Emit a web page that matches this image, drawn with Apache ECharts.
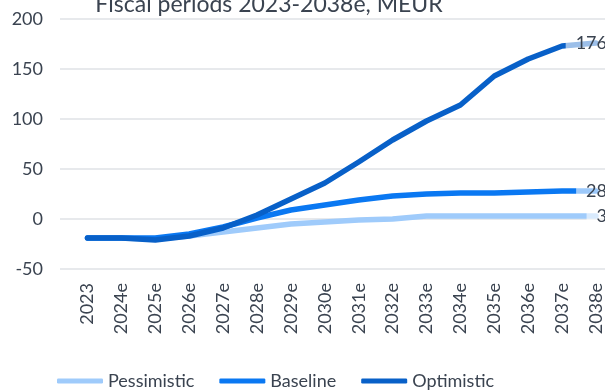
<!DOCTYPE html>
<html>
<head>
<meta charset="utf-8">
<script src="https://cdn.jsdelivr.net/npm/echarts@6/dist/echarts.min.js"></script>
<style>
  html, body { margin: 0; padding: 0; background: #ffffff; }
  #chart { width: 605px; height: 391px; }
</style>
</head>
<body>
<div id="chart"></div>
<script>
// Fiscal periods and scenario results (MEUR)
const years = ['2023', '2024e', '2025e', '2026e', '2027e', '2028e', '2029e', '2030e',
               '2031e', '2032e', '2033e', '2034e', '2035e', '2036e', '2037e', '2038e'];
const pessimistic = [-19, -19, -20, -17, -13, -9, -5, -3, -1, 0, 3, 3, 3, 3, 3, 3];
const baseline    = [-19, -19, -19, -15, -8, 1, 9, 14, 19, 23, 25, 26, 26, 27, 28, 28];
const optimistic  = [-19, -19, -21, -17, -9, 4, 20, 36, 57, 79, 98, 114, 143, 160, 173, 176];
const yTicks = [-50, 0, 50, 100, 150, 200];

const FONT = 'Lato';
const TEXT = '#3a4350';

function lineSeries(name, values, color) {
  return {
    name: name,
    type: 'line',
    xAxisIndex: 1,
    yAxisIndex: 1,
    data: values,
    symbol: 'none',
    lineStyle: { width: 5.5, color: color, cap: 'round', join: 'round' },
    itemStyle: { color: color },
    // value of the final period, sitting on the end of the line
    endLabel: {
      show: true,
      align: 'right',
      distance: 0,
      offset: [11, 0],
      color: TEXT,
      fontFamily: FONT,
      fontSize: 18,
      backgroundColor: 'rgba(255,255,255,0.6)',
      padding: [2, 0, 1, 10]
    }
  };
}

const chart = echarts.init(document.getElementById('chart'), null, { renderer: 'canvas' });

chart.setOption({
  animation: false,
  backgroundColor: '#ffffff',
  title: {
    text: 'Fiscal periods 2023-2038e, MEUR',
    left: 264,
    textAlign: 'center',
    top: -11.5,
    textStyle: { fontFamily: FONT, fontSize: 23, fontWeight: 'normal', color: TEXT }
  },
  legend: {
    bottom: -4,
    left: 52,
    itemWidth: 46,
    itemHeight: 5,
    itemGap: 25,
    icon: 'roundRect',
    textStyle: { fontFamily: FONT, fontSize: 18, color: TEXT },
    data: ['Pessimistic', 'Baseline', 'Optimistic']
  },
  grid: [
    // gridlines and value labels
    { left: 60, right: 0, top: 19, bottom: 122 },
    // plotted periods
    { left: 87.5, right: 0.5, top: 19, bottom: 122 }
  ],
  xAxis: [
    { gridIndex: 0, type: 'category', data: years, show: false },
    {
      gridIndex: 1,
      type: 'category',
      data: years,
      boundaryGap: false,
      axisLine: { show: false },
      axisTick: { show: false },
      axisLabel: {
        rotate: 90,
        margin: 14,
        interval: 0,
        fontFamily: FONT,
        fontSize: 18,
        color: TEXT
      }
    }
  ],
  yAxis: [
    {
      gridIndex: 0,
      type: 'value',
      min: yTicks[0],
      max: yTicks[yTicks.length - 1],
      interval: 50,
      axisLine: { show: false },
      axisTick: { show: false },
      axisLabel: { margin: 17, fontFamily: FONT, fontSize: 18, color: TEXT },
      splitLine: { lineStyle: { color: '#dfe2e6', width: 1.5 } }
    },
    {
      gridIndex: 1,
      type: 'value',
      min: yTicks[0],
      max: yTicks[yTicks.length - 1],
      interval: 50,
      show: false,
      splitLine: { show: false }
    }
  ],
  series: [
    lineSeries('Pessimistic', pessimistic, '#9fcbfb'),
    lineSeries('Baseline', baseline, '#0a78f2'),
    lineSeries('Optimistic', optimistic, '#0860c8')
  ]
});
</script>
</body>
</html>
